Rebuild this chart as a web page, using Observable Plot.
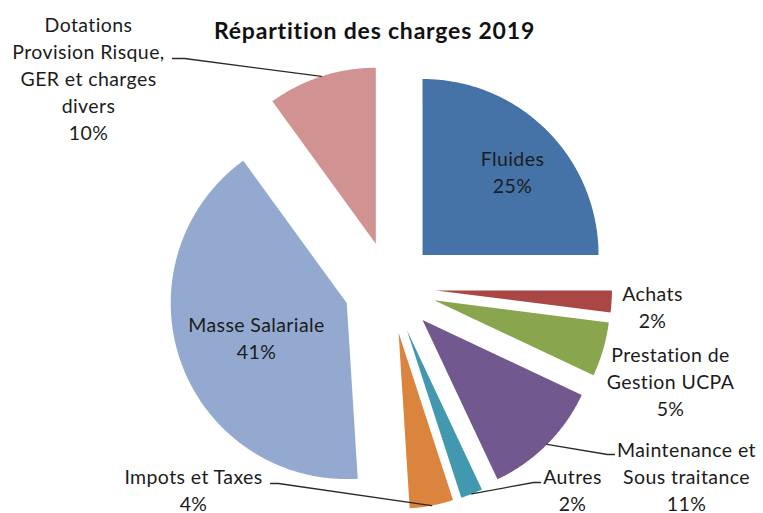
<!DOCTYPE html>
<html>
<head>
<meta charset="utf-8">
<script src="https://cdn.jsdelivr.net/npm/d3@7"></script>
<script src="https://cdn.jsdelivr.net/npm/@observablehq/plot@0.6"></script>
<style>
  html, body { margin: 0; padding: 0; background: #fff; }
  svg text { font-variant-ligatures: none; }
</style>
</head>
<body>
<div id="chart"></div>
<script>
// ---- data ----
const title = "Répartition des charges 2019";
const categories = ["Fluides", "Achats", "Prestation de Gestion UCPA", "Maintenance et Sous traitance", "Autres", "Impots et Taxes", "Masse Salariale", "Dotations Provision Risque, GER et charges divers"];
const values = [25, 2, 5, 11, 2, 4, 41, 10];
const labelLines = [
  ["Fluides", "25%"],
  ["Achats", "2%"],
  ["Prestation de", "Gestion UCPA", "5%"],
  ["Maintenance et", "Sous traitance", "11%"],
  ["Autres", "2%"],
  ["Impots et Taxes", "4%"],
  ["Masse Salariale", "41%"],
  ["Dotations", "Provision Risque,", "GER et charges", "divers", "10%"]
];
const colors = ["#4572a7", "#aa4643", "#89a54e", "#71588f", "#4198af", "#db843d", "#93a9cf", "#d19392"];

// ---- layout (pixels) ----
const W = 763, H = 513;
const cx = 389.5, cy = 287, R = 176, explode = 46;
// label anchor: centre x, baseline of last line
const labelPos = [[512, 192], [652, 327], [670, 415], [686, 510], [572, 510], [193, 510], [256, 358], [88, 139]];
// leader lines: [elbow, end] or null
const leaders = [null, null, null, [[607, 454], [614, 454]], [[533, 482], [540, 482]], [[278, 483], [270, 483]], null, [[184, 58], [172, 58]]];

const total = d3.sum(values);
const toRad = Math.PI / 180;
function pt(ox, oy, r, deg) {
  return [ox + r * Math.sin(deg * toRad), oy - r * Math.cos(deg * toRad)];
}

const slicePts = [];
const leaderPts = [];
const labels = [];
let acc = 0;
values.forEach((v, i) => {
  const a0 = acc / total * 360;
  acc += v;
  const a1 = acc / total * 360;
  const mid = (a0 + a1) / 2;
  const [ax, ay] = pt(cx, cy, explode, mid);
  const name = categories[i];
  slicePts.push({name, x: ax, y: ay});
  const steps = Math.max(2, Math.ceil((a1 - a0) / 0.5));
  for (let k = 0; k <= steps; k++) {
    const [x, y] = pt(ax, ay, R, a0 + (a1 - a0) * k / steps);
    slicePts.push({name, x, y});
  }
  slicePts.push({name, x: ax, y: ay});
  if (leaders[i]) {
    const [mx, my] = pt(ax, ay, R, mid);
    leaderPts.push({name, x: mx, y: my});
    leaders[i].forEach(([x, y]) => leaderPts.push({name, x, y}));
  }
  labels.push({name, x: labelPos[i][0], y: labelPos[i][1], text: labelLines[i].join("\n")});
});

const chart = Plot.plot({
  width: W,
  height: H,
  margin: 0,
  x: {domain: [0, W], range: [0, W], axis: null},
  y: {domain: [0, H], range: [0, H], axis: null},
  color: {domain: categories, range: colors},
  style: {fontFamily: "Lato, 'Open Sans', sans-serif", background: "#fff", overflow: "visible"},
  marks: [
    Plot.line(slicePts, {x: "x", y: "y", z: "name", fill: "name", stroke: "none", curve: "linear"}),
    Plot.line(leaderPts, {x: "x", y: "y", z: "name", stroke: "#2a2a2a", strokeWidth: 1.3}),
    Plot.text(labels, {x: "x", y: "y", text: "text", textAnchor: "middle", lineAnchor: "bottom", lineHeight: 1.38, fontSize: 19.5, fill: "#1c1c1c", style: "letter-spacing:0.4px"}),
    Plot.text([title], {x: () => 374, y: () => 38, text: d => d, textAnchor: "middle", lineAnchor: "bottom", fontSize: 23, fontWeight: "bold", fill: "#111"})
  ]
});
chart.querySelectorAll("g[aria-label=text]").forEach((g, i) => {
  g.setAttribute("letter-spacing", i === 0 ? "0.4" : "0.8");
});
document.getElementById("chart").appendChild(chart);
</script>
</body>
</html>
